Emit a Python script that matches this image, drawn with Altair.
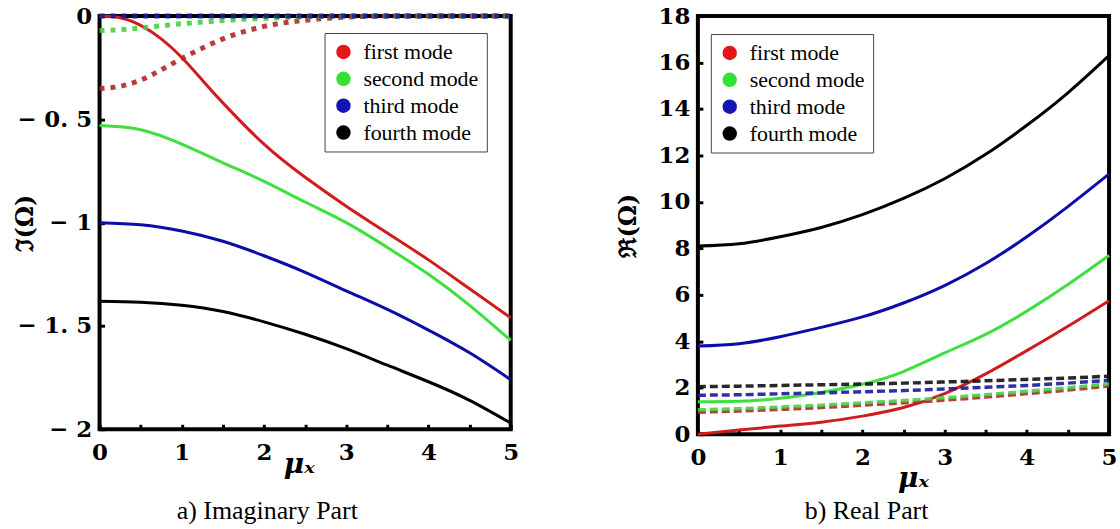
import altair as alt
import pandas as pd

# ---------------- data ----------------
x_coarse = [0, 0.5, 1, 1.5, 2, 2.5, 3, 3.5, 4, 4.5, 5]
x_fine = [0, 0.25, 0.5, 0.75, 1, 1.25, 1.5, 2, 2.5, 3, 3.5, 4, 4.5, 5]

modes = ["first mode", "second mode", "third mode", "fourth mode"]
legend_colors = ["#e8141c", "#33e033", "#1414b4", "#000000"]
line_keys = ["first solid", "second solid", "third solid", "fourth solid",
             "first dash", "second dash", "third dash", "fourth dash"]
line_colors = ["#d01c1c", "#3ee03e", "#0c0ca8", "#000000",
               "#b02828", "#44d044", "#1a1a9c", "#111111"]

# a) Imaginary part - solid curves
im_first_solid = [0, -0.008, -0.045, -0.11, -0.2, -0.31, -0.42, -0.62, -0.78, -0.92, -1.05, -1.18, -1.32, -1.46]  # x_fine
im_second_solid = [-0.53, -0.55, -0.62, -0.71, -0.80, -0.90, -1.00, -1.12, -1.25, -1.40, -1.57]  # x_coarse
im_third_solid = [-1.0, -1.01, -1.04, -1.09, -1.16, -1.24, -1.33, -1.42, -1.52, -1.63, -1.76]
im_fourth_solid = [-1.38, -1.385, -1.40, -1.43, -1.48, -1.54, -1.61, -1.69, -1.77, -1.86, -1.97]
# a) Imaginary part - dotted curves
im_first_dot = [-0.35, -0.34, -0.31, -0.26, -0.205, -0.155, -0.11, -0.05, -0.02, -0.005, 0, 0, 0, 0]  # x_fine
im_second_dot = [-0.07, -0.066, -0.057, -0.047, -0.037, -0.029, -0.021, -0.011, -0.004, 0, 0, 0, 0, 0]  # x_fine
im_third_dot = [0, 0, 0, 0, 0, 0, 0, 0, 0, 0, 0]  # x_coarse

# b) Real part - solid curves (x_coarse)
re_first_solid = [0, 0.18, 0.35, 0.52, 0.78, 1.15, 1.75, 2.6, 3.6, 4.65, 5.75]
re_second_solid = [1.4, 1.42, 1.55, 1.8, 2.15, 2.7, 3.5, 4.3, 5.3, 6.45, 7.7]
re_third_solid = [3.8, 3.9, 4.2, 4.6, 5.05, 5.65, 6.4, 7.35, 8.5, 9.8, 11.2]
re_fourth_solid = [8.1, 8.2, 8.5, 8.9, 9.45, 10.15, 11.0, 12.05, 13.3, 14.7, 16.3]
# b) Real part - dashed curves (x_coarse)
re_first_dash = [0.95, 1.0, 1.07, 1.15, 1.25, 1.35, 1.47, 1.6, 1.75, 1.9, 2.08]
re_second_dash = [1.05, 1.1, 1.17, 1.25, 1.35, 1.45, 1.57, 1.7, 1.85, 2.0, 2.17]
re_third_dash = [1.68, 1.7, 1.74, 1.78, 1.83, 1.88, 1.95, 2.02, 2.1, 2.2, 2.32]
re_fourth_dash = [2.05, 2.07, 2.1, 2.13, 2.16, 2.2, 2.25, 2.3, 2.36, 2.42, 2.5]

im_y_ticks = [-2, -1.5, -1, -0.5, 0]
re_y_ticks = [0, 2, 4, 6, 8, 10, 12, 14, 16, 18]
x_ticks = [0, 0.5, 1, 1.5, 2, 2.5, 3, 3.5, 4, 4.5, 5]


def rows(xs, ys, k, style, sid):
    key = ["first", "second", "third", "fourth"][k] + " " + style
    return [{"x": a, "y": b, "mode": modes[k], "style": style, "key": key, "series": sid}
            for a, b in zip(xs, ys)]


im_rows = []
im_rows += rows(x_fine, im_first_solid, 0, "solid", "s1")
im_rows += rows(x_coarse, im_second_solid, 1, "solid", "s2")
im_rows += rows(x_coarse, im_third_solid, 2, "solid", "s3")
im_rows += rows(x_coarse, im_fourth_solid, 3, "solid", "s4")
im_rows += rows(x_fine, im_first_dot, 0, "dash", "d1")
im_rows += rows(x_fine, im_second_dot, 1, "dash", "d2")
im_rows += rows(x_coarse, im_third_dot, 2, "dash", "d3")
im_df = pd.DataFrame(im_rows)

re_rows = []
for s, d, k in zip([re_first_solid, re_second_solid, re_third_solid, re_fourth_solid],
                   [re_first_dash, re_second_dash, re_third_dash, re_fourth_dash], range(4)):
    re_rows += rows(x_coarse, s, k, "solid", f"s{k}")
    re_rows += rows(x_coarse, d, k, "dash", f"d{k}")
re_df = pd.DataFrame(re_rows)

NUM_FONT = "DejaVu Serif"
BLACK = "#000000"


def make_panel(df, ydomain, yticks, ylabel_expr, ytitle, ytitle_x, xtitle_x, xtitle_y,
               legend_x, legend_y, caption, caption_offset, w, h, dash, dash_width):
    xaxis = alt.Axis(values=x_ticks, labelExpr="datum.value % 1 == 0 ? toString(datum.value) : ''",
                     domain=False, grid=False, ticks=True, tickSize=5, tickWidth=3, tickColor=BLACK,
                     offset=-5, labelPadding=12, labelFlush=False, labelOverlap=False,
                     labelFont=NUM_FONT, labelFontWeight="bold", labelFontSize=23, labelColor=BLACK,
                     title="μₓ", titleFont=NUM_FONT, titleFontStyle="italic", titleFontWeight="bold",
                     titleFontSize=28, titleColor=BLACK, titleX=xtitle_x, titleY=xtitle_y,
                     titleBaseline="alphabetic", titleAlign="center")
    yaxis = alt.Axis(values=yticks, labelExpr=ylabel_expr,
                     domain=False, grid=False, ticks=True, tickSize=5, tickWidth=3, tickColor=BLACK,
                     offset=-5, labelPadding=8, labelFlush=False, labelOverlap=False,
                     labelFont=NUM_FONT, labelFontWeight="bold", labelFontSize=23, labelColor=BLACK,
                     title=ytitle, titleFont=NUM_FONT, titleFontWeight="bold", titleFontSize=24,
                     titleColor=BLACK, titleAngle=270, titleX=ytitle_x, titleY=h / 2,
                     titleAlign="center", titleBaseline="middle")
    legend = alt.Legend(title=None, orient="none", legendX=legend_x, legendY=legend_y,
                        symbolType="circle", symbolSize=210, symbolStrokeWidth=0,
                        symbolOpacity=1, labelFont="Liberation Serif", labelFontSize=22, labelColor=BLACK,
                        labelOffset=9, rowPadding=5, padding=8, strokeColor="#444444",
                        fillColor="white", labelLimit=300)
    xenc = alt.X("x:Q", scale=alt.Scale(domain=[0, 5], nice=False), axis=xaxis)
    yenc = alt.Y("y:Q", scale=alt.Scale(domain=ydomain, nice=False), axis=yaxis)
    sscale = alt.Scale(domain=line_keys, range=line_colors)
    base = alt.Chart(df)
    dashed = base.transform_filter(alt.datum.style == "dash").mark_line(
        strokeWidth=dash_width, strokeDash=dash, interpolate="monotone", clip=False
    ).encode(x=xenc, y=yenc, stroke=alt.Stroke("key:N", scale=sscale, legend=None),
             detail="series:N", opacity=alt.value(0.9))
    solid = base.transform_filter(alt.datum.style == "solid").mark_line(
        strokeWidth=3, interpolate="natural"
    ).encode(x=xenc, y=yenc, stroke=alt.Stroke("key:N", scale=sscale, legend=None),
             detail="series:N")
    keys = base.transform_filter(alt.datum.style == "solid").mark_circle(
        size=0, opacity=1
    ).encode(x=xenc, y=yenc,
             color=alt.Color("mode:N", scale=alt.Scale(domain=modes, range=legend_colors), legend=legend))
    return alt.layer(solid, dashed, keys).properties(
        width=w, height=h,
        title=alt.TitleParams(caption, orient="bottom", font="Liberation Serif", fontSize=26,
                              fontWeight="normal", color=BLACK, offset=caption_offset,
                              frame="bounds", anchor="middle"))


im_expr = "{'-2':'− 2','-1.5':'− 1. 5','-1':'− 1','-0.5':'− 0. 5','0':'0'}[toString(datum.value)]"
left = make_panel(im_df, [-2, 0], im_y_ticks, im_expr, "ℑ(Ω)", -79, 200, 48,
                  226, 17, "a) Imaginary Part", 20, 413, 415, [5, 6], 5)
right = make_panel(re_df, [0, 18], re_y_ticks, "toString(datum.value)", "ℜ(Ω)", -75, 216, 57,
                   13, 18, "b) Real Part", 6, 413, 420, [8, 4], 3.5)

chart = alt.hconcat(left, right, spacing=92).resolve_scale(
    color="independent", stroke="independent"
).resolve_legend(color="independent").properties(
    padding={"left": 12, "top": 2, "right": 0, "bottom": 0}, background="white"
).configure_view(stroke=BLACK, strokeWidth=4)

chart.save("out.html", embed_options={"renderer": "svg", "actions": False})
